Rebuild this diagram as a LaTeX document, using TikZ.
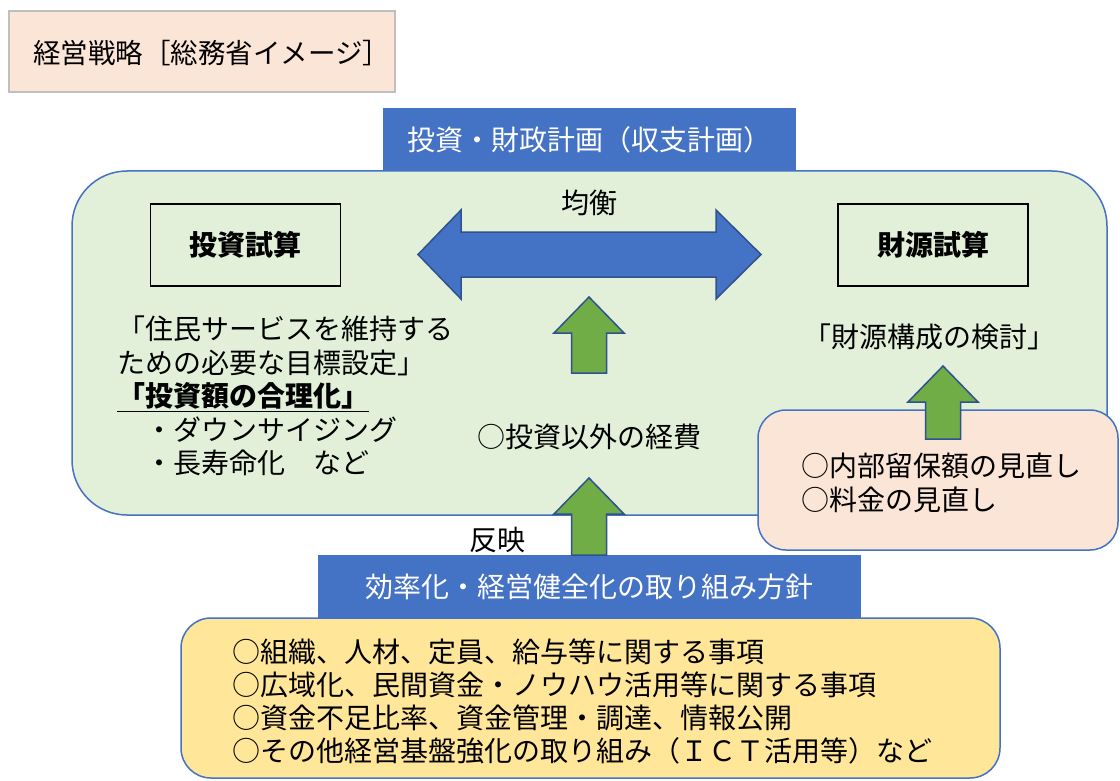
\documentclass[tikz,border=0pt]{standalone}
\usepackage{fontspec}
\setmainfont{Noto Sans CJK JP}
\definecolor{planblue}{HTML}{4472C4}
\definecolor{edgeblue}{HTML}{2F528F}
\definecolor{leafgreen}{HTML}{70AD47}
\definecolor{palegreen}{HTML}{E2F0D9}
\definecolor{peach}{HTML}{FBE5D6}
\definecolor{cream}{HTML}{FFE699}
\begin{document}
\begin{tikzpicture}[x=1pt,y=-1pt,
  txt/.style={inner sep=0pt, font=\fontsize{28}{33.5}\selectfont},
  panel/.style={draw=planblue, line width=1.5pt},
  headbar/.style={fill=planblue, text=white, inner sep=0pt, font=\fontsize{28}{33.5}\selectfont},
  calcbox/.style={draw=black, line width=1.8pt, fill=palegreen, minimum width=190pt, minimum height=82pt, inner sep=0pt, font=\fontsize{28}{33.5}\selectfont\bfseries},
  greenarrow/.style={fill=leafgreen, draw=edgeblue, line width=1.5pt, line join=miter},
  bluearrow/.style={fill=planblue, draw=edgeblue, line width=1.5pt, line join=miter}]
  \useasboundingbox (0,0) rectangle (1120,781);

  % Title
  \node[fill=peach, draw=black!25, line width=1.5pt, minimum width=386pt, minimum height=81pt] (title) at (202,51.5) {};
  \node[txt, anchor=west, font=\fontsize{27.5}{30}\selectfont] (titletext) at (33,53) {経営戦略［総務省イメージ］};

  % Plan panel
  \node[headbar, minimum width=413pt, minimum height=63pt] (planhead) at (589.5,139.5) {投資・財政計画（収支計画）};
  \node[panel, fill=palegreen, rounded corners=55pt, minimum width=1035pt, minimum height=344pt] (plan) at (589.5,343) {};
  \node[calcbox] (invest) at (245.5,245) {投資試算};
  \node[calcbox] (fund) at (933,245) {財源試算};
  \node[txt] (balance) at (589,203) {均衡};
  \draw[bluearrow] (418,254.5) -- (461,210) -- (461,232) -- (716,232) -- (716,210) -- (761,254.5)
    -- (716,299) -- (716,277) -- (461,277) -- (461,299) -- cycle;

  \node[txt, anchor=north west, align=left] (investnote) at (117,316)
    {「住民サービスを維持する\\ための必要な目標設定」\\\textbf{\underline{「投資額の合理化」}}\\\hspace*{1em}・ダウンサイジング\\\hspace*{1em}・長寿命化　など};
  \node[txt] (fundnote) at (929,337) {「財源構成の検討」};
  \node[txt] (other) at (589,437) {○投資以外の経費};

  % Revenue review
  \node[panel, fill=peach, rounded corners=28pt, minimum width=360pt, minimum height=140pt] (review) at (938,480) {};
  \node[txt, anchor=north west, align=left] (reviewtext) at (801,453) {○内部留保額の見直し\\○料金の見直し};

  % Policy
  \node[panel, fill=cream, rounded corners=30pt, minimum width=819pt, minimum height=160pt] (policy) at (590.5,698) {};
  \node[headbar, minimum width=543pt, minimum height=63pt] (policyhead) at (589.5,586.5) {効率化・経営健全化の取り組み方針};
  \node[txt, anchor=north west, align=left, font=\fontsize{28}{33}\selectfont] (policytext) at (232,639)
    {○組織、人材、定員、給与等に関する事項\\○広域化、民間資金・ノウハウ活用等に関する事項\\○資金不足比率、資金管理・調達、情報公開\\○その他経営基盤強化の取り組み（ＩＣＴ活用等）など};
  \node[txt] (reflect) at (497,540) {反映};

  % Arrows
  \foreach \cx/\tip/\bot in {589/297/373, 589/478/555, 943/366/439}
    \draw[greenarrow] (\cx,\tip) -- (\cx+35,\tip+36) -- (\cx+17.5,\tip+36) -- (\cx+17.5,\bot)
      -- (\cx-17.5,\bot) -- (\cx-17.5,\tip+36) -- (\cx-35,\tip+36) -- cycle;
\end{tikzpicture}
\end{document}
